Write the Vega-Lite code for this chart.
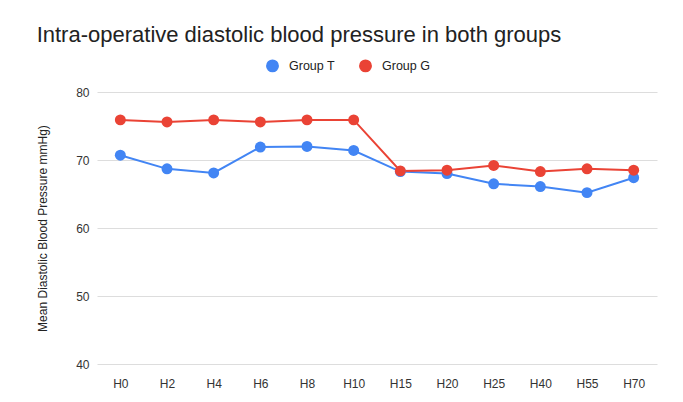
{
  "$schema": "https://vega.github.io/schema/vega-lite/v6.json",
  "width": 560,
  "height": 272,
  "padding": {"left": 36, "top": 24, "right": 20, "bottom": 10},
  "background": "white",
  "title": {
    "text": "Intra-operative diastolic blood pressure in both groups",
    "anchor": "start",
    "frame": "bounds",
    "font": "Liberation Sans",
    "fontSize": 22,
    "fontWeight": "normal",
    "color": "#222222",
    "offset": 12
  },
  "config": {
    "view": {"stroke": null},
    "font": "Liberation Sans"
  },
  "data": {
    "values": [
      {"time": "H0", "group": "Group T", "value": 70.7},
      {"time": "H2", "group": "Group T", "value": 68.7},
      {"time": "H4", "group": "Group T", "value": 68.1},
      {"time": "H6", "group": "Group T", "value": 71.9},
      {"time": "H8", "group": "Group T", "value": 72.0},
      {"time": "H10", "group": "Group T", "value": 71.4},
      {"time": "H15", "group": "Group T", "value": 68.3},
      {"time": "H20", "group": "Group T", "value": 68.0},
      {"time": "H25", "group": "Group T", "value": 66.5},
      {"time": "H40", "group": "Group T", "value": 66.1},
      {"time": "H55", "group": "Group T", "value": 65.2},
      {"time": "H70", "group": "Group T", "value": 67.4},
      {"time": "H0", "group": "Group G", "value": 75.9},
      {"time": "H2", "group": "Group G", "value": 75.6},
      {"time": "H4", "group": "Group G", "value": 75.9},
      {"time": "H6", "group": "Group G", "value": 75.6},
      {"time": "H8", "group": "Group G", "value": 75.9},
      {"time": "H10", "group": "Group G", "value": 75.9},
      {"time": "H15", "group": "Group G", "value": 68.4},
      {"time": "H20", "group": "Group G", "value": 68.5},
      {"time": "H25", "group": "Group G", "value": 69.2},
      {"time": "H40", "group": "Group G", "value": 68.3},
      {"time": "H55", "group": "Group G", "value": 68.7},
      {"time": "H70", "group": "Group G", "value": 68.5}
    ]
  },
  "encoding": {
    "x": {
      "field": "time",
      "type": "ordinal",
      "sort": null,
      "scale": {"type": "point", "padding": 0.5},
      "axis": {
        "title": null,
        "labelAngle": 0,
        "ticks": false,
        "domain": false,
        "grid": false,
        "labelPadding": 14,
        "labelFontSize": 12,
        "labelColor": "#333333"
      }
    },
    "y": {
      "field": "value",
      "type": "quantitative",
      "scale": {"domain": [40, 80]},
      "axis": {
        "title": "Mean Diastolic Blood Pressure mmHg)",
        "titleFontSize": 12,
        "titleFontWeight": "normal",
        "titleColor": "#222222",
        "titlePadding": 26,
        "values": [40, 50, 60, 70, 80],
        "ticks": false,
        "domain": false,
        "labelPadding": 8,
        "labelFontSize": 12,
        "labelColor": "#333333",
        "gridColor": "#dddddd",
        "gridWidth": 1
      }
    },
    "color": {
      "field": "group",
      "type": "nominal",
      "sort": ["Group T", "Group G"],
      "scale": {"domain": ["Group T", "Group G"], "range": ["#4285F4", "#EA4335"]},
      "legend": {
        "title": null,
        "orient": "none",
        "direction": "horizontal",
        "legendX": 169,
        "legendY": -33,
        "symbolType": "circle",
        "symbolSize": 130,
        "labelFontSize": 12.5,
        "labelOffset": 10,
        "labelColor": "#222222",
        "columnPadding": 21
      }
    }
  },
  "layer": [
    {"mark": {"type": "line", "strokeWidth": 2}},
    {"mark": {"type": "circle", "size": 120, "opacity": 1}}
  ]
}
